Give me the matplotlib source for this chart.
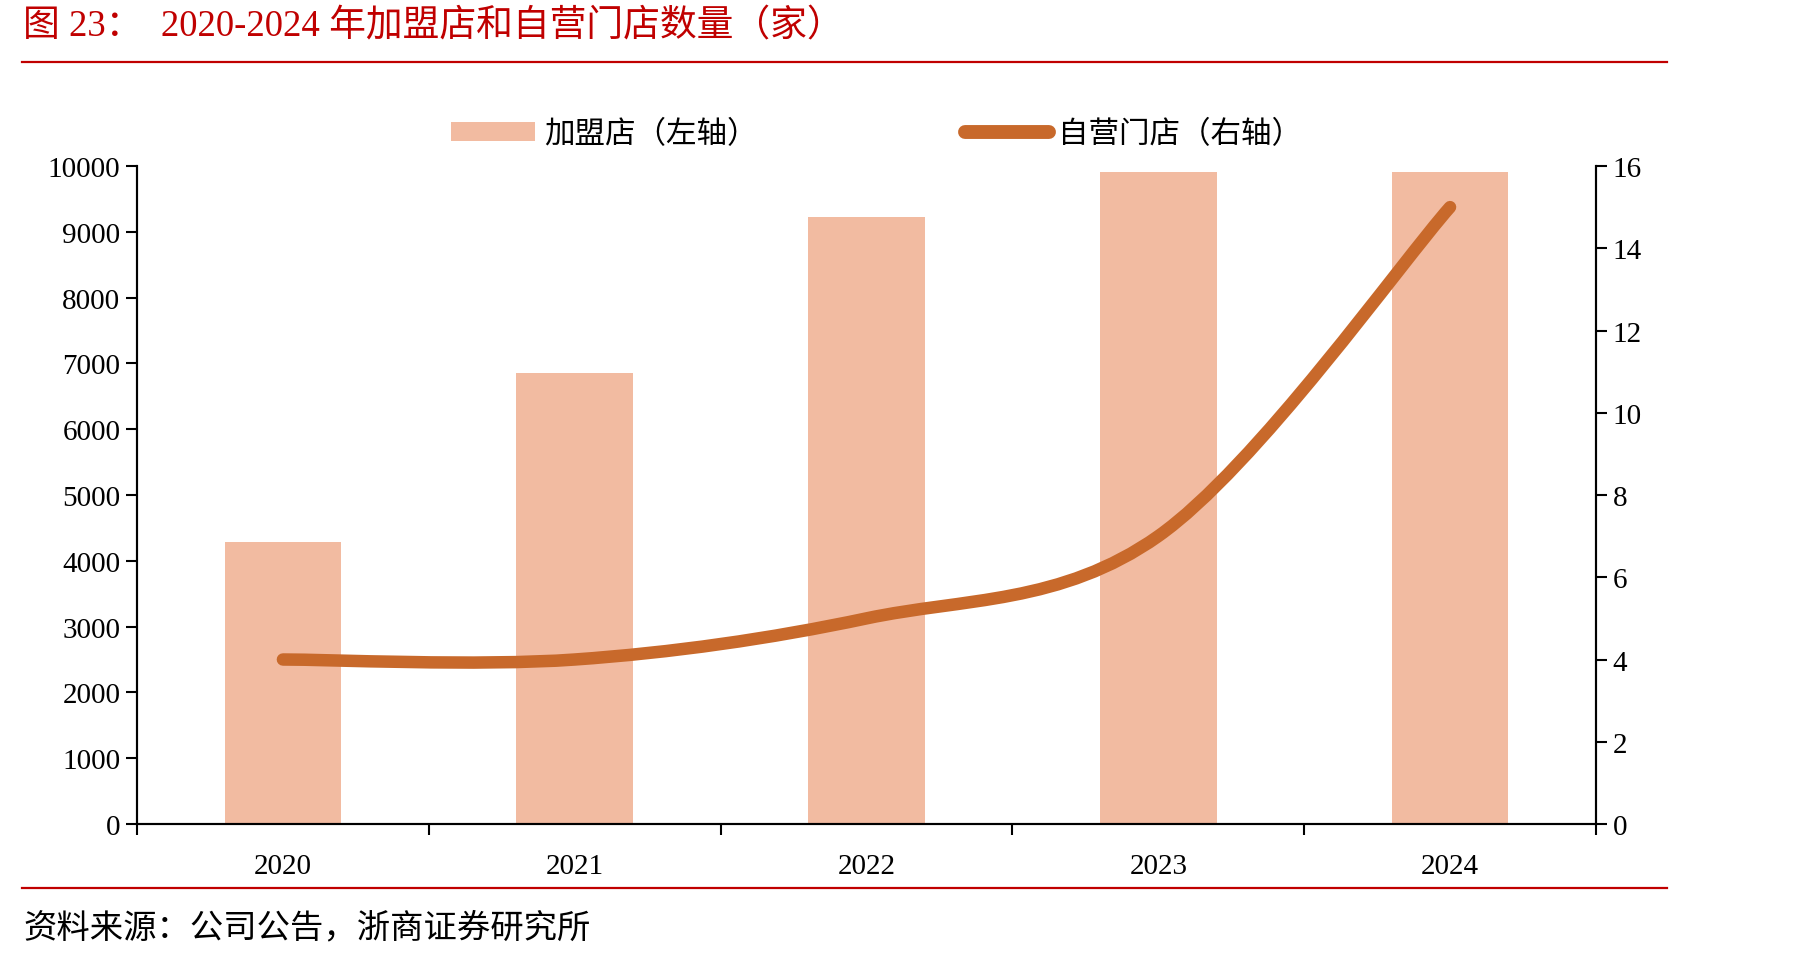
import numpy as np
import matplotlib
matplotlib.use("Agg")
import matplotlib.pyplot as plt
from matplotlib.path import Path
from matplotlib.patches import PathPatch, Patch
from matplotlib.lines import Line2D

plt.rcParams['font.family'] = ['Liberation Serif', 'Noto Sans CJK SC']

years = ['2020', '2021', '2022', '2023', '2024']
franchise = [4290, 6860, 9230, 9910, 9910]   # 加盟店（左轴）
selfrun = [4, 4, 5, 7, 15]                   # 自营门店（右轴）

bar_color = '#F2BBA1'
line_color = '#C8692B'
red = '#C00000'

fig = plt.figure(figsize=(17.96, 9.62), dpi=100)
ax = fig.add_axes([0.0763, 0.1424, 0.8123, 0.684])
ax2 = ax.twinx()

x = np.arange(len(years))
ax.bar(x, franchise, width=0.4, color=bar_color, zorder=1)
ax.set_xlim(-0.5, len(years) - 0.5)
ax.set_ylim(0, 10000)
ax.set_yticks(range(0, 10001, 1000))
ax.set_xticks(np.arange(-0.5, len(years), 1.0))
ax.set_xticklabels([])
ax.set_xticks(x, minor=True)
ax.set_xticklabels(years, minor=True)
ax.tick_params(axis='x', which='major', direction='out', length=8, width=1.5)
ax.tick_params(axis='x', which='minor', length=0, pad=21, labelsize=21)
ax.tick_params(axis='y', direction='out', length=8, width=1.5, labelsize=21, pad=4)

ax2.set_ylim(0, 16)
ax2.set_yticks(range(0, 17, 2))
ax2.tick_params(axis='y', direction='out', length=8, width=1.5, labelsize=21, pad=4)

for a in (ax, ax2):
    a.spines['top'].set_visible(False)
    for s in ('left', 'right', 'bottom'):
        a.spines[s].set_linewidth(1.5)
ax.patch.set_visible(False)
ax2.set_zorder(ax.get_zorder() + 1)

# smoothed line (Catmull-Rom through the data points, drawn as bezier path)
pts = list(zip(x.astype(float), selfrun))
ext = [pts[0]] + pts + [pts[-1]]
verts = [pts[0]]
codes = [Path.MOVETO]
for i in range(1, len(ext) - 2):
    p0, p1, p2, p3 = [np.array(p) for p in ext[i - 1:i + 3]]
    c1 = p1 + (p2 - p0) / 6
    c2 = p2 - (p3 - p1) / 6
    verts += [tuple(c1), tuple(c2), tuple(p2)]
    codes += [Path.CURVE4] * 3
ax2.add_patch(PathPatch(Path(verts, codes), facecolor='none', edgecolor=line_color,
                        lw=9, capstyle='round', joinstyle='round'))

handles = [Patch(facecolor=bar_color, edgecolor='none', label='加盟店（左轴）'),
           Line2D([0], [0], color=line_color, lw=10, solid_capstyle='round', label='自营门店（右轴）')]
fig.legend(handles=handles, ncol=2, loc='center', bbox_to_anchor=(0.488, 0.859),
           frameon=False, fontsize=22, handlelength=2.75, handleheight=0.6,
           handletextpad=0.3, columnspacing=6.8)

# title, rules, source
fig.text(0.013, 0.972, '图 23：  2020-2024 年加盟店和自营门店数量（家）', color=red,
         fontsize=26.5, va='center', ha='left')
fig.add_artist(Line2D([0.012, 0.928], [1 - 63 / 962] * 2, color=red, lw=1.6))
fig.add_artist(Line2D([0.012, 0.928], [1 - 889 / 962] * 2, color=red, lw=1.6))
fig.text(0.013, 0.035, '资料来源：公司公告，浙商证券研究所', fontsize=24, va='center', ha='left')

fig.savefig('out.png', dpi=100)
